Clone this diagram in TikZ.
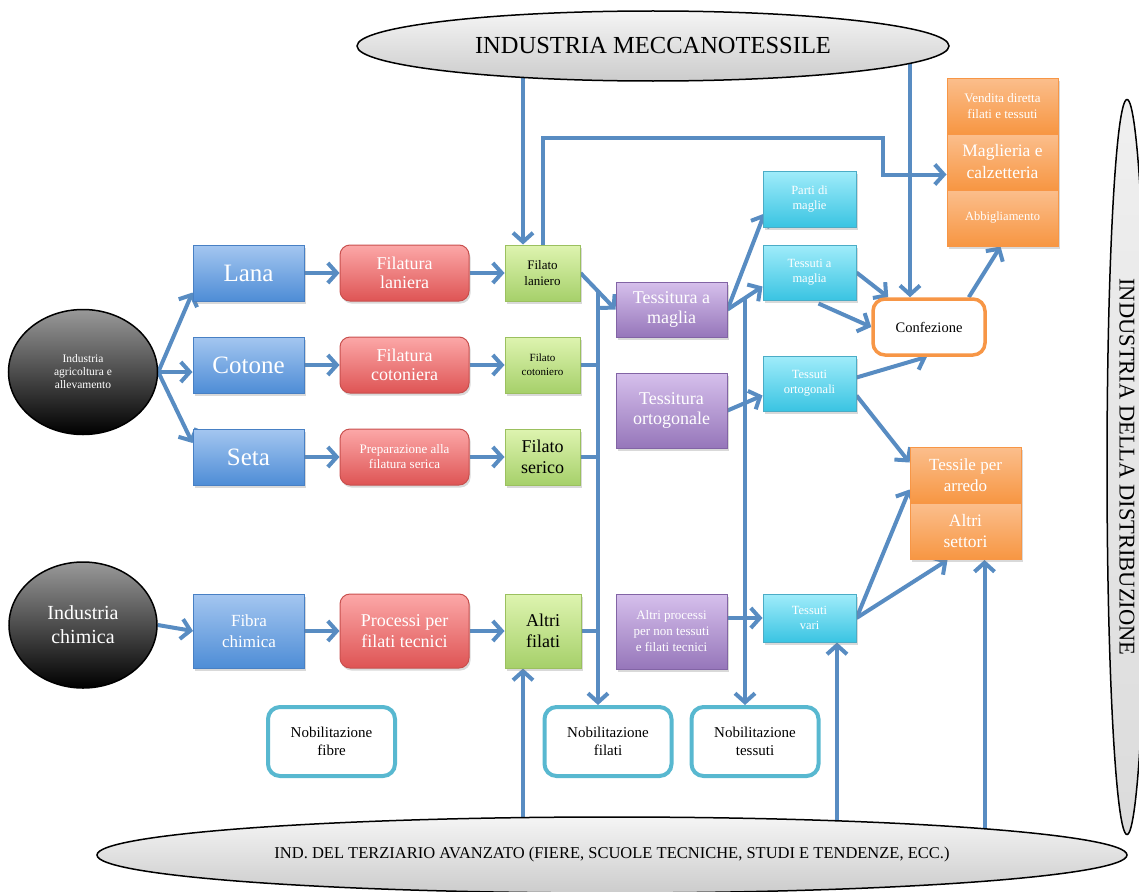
\documentclass[tikz,border=0pt]{standalone}
\usepackage{fontspec}
\setmainfont{Liberation Serif}
\usetikzlibrary{shapes.geometric,arrows.meta,shadows,calc}
\pgfdeclarelayer{background}
\pgfsetlayers{background,main}

\definecolor{arrowblue}{RGB}{88,140,194}
\definecolor{bluetop}{RGB}{164,198,240}
\definecolor{bluebot}{RGB}{78,141,214}
\definecolor{blueline}{RGB}{72,128,196}
\definecolor{redtop}{RGB}{252,168,168}
\definecolor{redbot}{RGB}{222,84,84}
\definecolor{redline}{RGB}{200,80,78}
\definecolor{greentop}{RGB}{222,244,176}
\definecolor{greenbot}{RGB}{166,208,106}
\definecolor{greenline}{RGB}{155,192,95}
\definecolor{purpletop}{RGB}{214,192,236}
\definecolor{purplebot}{RGB}{150,118,186}
\definecolor{purpleline}{RGB}{130,100,165}
\definecolor{cyantop}{RGB}{160,236,250}
\definecolor{cyanbot}{RGB}{58,196,226}
\definecolor{cyanline}{RGB}{75,172,198}
\definecolor{orangetop}{RGB}{251,190,140}
\definecolor{orangebot}{RGB}{247,150,66}
\definecolor{orangeline}{RGB}{247,150,70}
\definecolor{nobline}{RGB}{88,184,208}

\newcommand{\fsz}[2]{\fontsize{#1}{#2}\selectfont}

\tikzset{
	flow/.style={draw=arrowblue, line width=4pt, -{Straight Barb[length=9pt,width=20pt]}},
	link/.style={draw=arrowblue, line width=4pt},
	box/.style={rectangle, align=center, text=white, line width=1pt, inner sep=2pt, drop shadow={shadow xshift=1.5pt, shadow yshift=-2.5pt, opacity=0.3}},
	fibrebox/.style={box, minimum width=111pt, minimum height=56pt, top color=bluetop, bottom color=bluebot, draw=blueline},
	spinbox/.style={box, rounded corners=10pt, minimum width=129pt, minimum height=56pt, top color=redtop, bottom color=redbot, draw=redline},
	yarnbox/.style={box, text=black, minimum width=75pt, minimum height=56pt, top color=greentop, bottom color=greenbot, draw=greenline},
	knitbox/.style={box, minimum width=111pt, minimum height=55pt, top color=purpletop, bottom color=purplebot, draw=purpleline},
	clothbox/.style={box, minimum width=93pt, minimum height=55pt, top color=cyantop, bottom color=cyanbot, draw=cyanline},
	sellbox/.style={box, minimum width=111pt, minimum height=56pt, top color=orangetop, bottom color=orangebot, draw=orangeline},
	makebox/.style={rectangle, rounded corners=12pt, align=center, fill=white, draw=orangeline, line width=3.5pt, minimum width=112pt, minimum height=56pt},
	finishbox/.style={rectangle, rounded corners=12pt, align=center, fill=white, draw=nobline, line width=4pt, minimum width=127pt, minimum height=69pt, font=\fsz{15}{18}},
	sector/.style={ellipse, draw=black, line width=1.5pt, top color=gray!8, bottom color=gray!40, inner sep=0pt},
	source/.style={ellipse, draw=black, line width=1.5pt, top color=black!40, bottom color=black, text=white, align=center, inner sep=0pt}
}

\begin{document}
\begin{tikzpicture}[x=1pt,y=-1pt]
	\useasboundingbox (0,0) rectangle (1139,891);
	\clip (0,0) rectangle (1139,891);

	\node[sector, minimum width=592pt, minimum height=70pt, font=\fsz{24.5}{28}](meccano) at (653,46){INDUSTRIA MECCANOTESSILE};
	\node[sector, minimum width=1030pt, minimum height=76pt, font=\fsz{16.5}{19}](terziario) at (612,855){IND. DEL TERZIARIO AVANZATO (FIERE, SCUOLE TECNICHE, STUDI E TENDENZE, ECC.)};
	\node[sector, rotate=-90, top color=gray!12, bottom color=gray!28, minimum width=735pt, minimum height=40pt, font=\fsz{22.5}{26}](distribuzione) at (1127,467){INDUSTRIA DELLA DISTRIBUZIONE};

	\node[source, minimum width=149pt, minimum height=125pt, font=\fsz{11.5}{13}](agricoltura) at (83,372){Industria\\agricoltura e\\allevamento};
	\node[source, minimum width=148pt, minimum height=126pt, font=\fsz{20}{24}](chimica) at (83,625){Industria\\chimica};

	\node[fibrebox, font=\fsz{25}{28}](lana) at (248.5,273){Lana};
	\node[fibrebox, font=\fsz{25}{28}](cotone) at (248.5,365){Cotone};
	\node[fibrebox, font=\fsz{25}{28}](seta) at (248.5,457){Seta};
	\node[fibrebox, minimum height=74pt, font=\fsz{17}{21}](fibra) at (249,631){Fibra\\chimica};

	\node[spinbox, font=\fsz{18}{19.5}](flaniera) at (404.5,273){Filatura\\laniera};
	\node[spinbox, font=\fsz{18}{19.5}](fcotoniera) at (404.5,365){Filatura\\cotoniera};
	\node[spinbox, font=\fsz{13}{15}](fserica) at (404.5,457){Preparazione alla\\filatura serica};
	\node[spinbox, minimum height=74pt, font=\fsz{18}{21}](processi) at (404.5,631){Processi per\\filati tecnici};

	\node[yarnbox, font=\fsz{13}{16}](laniero) at (542.5,273){Filato\\laniero};
	\node[yarnbox, font=\fsz{11}{14}](cotoniero) at (542.5,365){Filato\\cotoniero};
	\node[yarnbox, font=\fsz{18}{21}](serico) at (542.5,457){Filato\\serico};
	\node[yarnbox, minimum width=76pt, minimum height=74pt, font=\fsz{18}{21}](altrifilati) at (543,631){Altri\\filati};

	\node[knitbox, font=\fsz{18}{20}](tmaglia) at (671.5,309.5){Tessitura a\\maglia};
	\node[knitbox, minimum height=75pt, font=\fsz{18}{20}](tortogonale) at (671.5,410.5){Tessitura\\ortogonale};
	\node[knitbox, minimum height=75pt, font=\fsz{13}{16}](aprocessi) at (671.5,631.5){Altri processi\\per non tessuti\\e filati tecnici};

	\node[clothbox, minimum height=56pt, font=\fsz{12.5}{15}](parti) at (809.5,199){Parti di\\maglie};
	\node[clothbox, font=\fsz{12.5}{15}](smaglia) at (809.5,272.5){Tessuti a\\maglia};
	\node[clothbox, font=\fsz{12.5}{15}](sortogonali) at (809.5,383.5){Tessuti\\ortogonali};
	\node[clothbox, minimum height=48pt, font=\fsz{12.5}{15}](svari) at (809.5,618){Tessuti\\vari};

	\node[makebox, font=\fsz{14.5}{17}](confezione) at (929,327){Confezione};

	\node[sellbox, font=\fsz{13}{16}](vendita) at (1002.5,106){Vendita diretta\\filati e tessuti};
	\node[sellbox, font=\fsz{17.5}{22}](maglieria) at (1002.5,162){Maglieria e\\calzetteria};
	\node[sellbox, font=\fsz{12.5}{15}](abbigliamento) at (1002.5,218){Abbigliamento};
	\node[sellbox, font=\fsz{17}{21}](arredo) at (965.5,475.5){Tessile per\\arredo};
	\node[sellbox, font=\fsz{17.5}{21}](settori) at (965.5,531.5){Altri\\settori};

	\node[finishbox](nfibre) at (331.5,741.5){Nobilitazione\\fibre};
	\node[finishbox](nfilati) at (608,741.5){Nobilitazione\\filati};
	\node[finishbox](ntessuti) at (755,741.5){Nobilitazione\\tessuti};

	\coordinate (busyarn) at ($(laniero.east)!0.5!(tmaglia.west)$);
	\coordinate (smagliain) at ($(smaglia.west)+(0,14)$);
	\coordinate (buscloth) at ($(tmaglia.east)!0.5!(smagliain)$);
	\coordinate (mecA) at ($(laniero.north)+(-19.5,0)$);
	\coordinate (mecB) at ($(confezione.north)+(-19,0)$);
	\coordinate (terA) at ($(altrifilati.south)+(-20,0)$);
	\coordinate (terB) at ($(svari.south)+(27.5,0)$);
	\coordinate (terC) at ($(settori.south)+(19,0)$);

	\begin{pgfonlayer}{background}
		\draw[flow] (agricoltura.east) -- ($(lana.south west)+(0,-9)$);
		\draw[flow] (agricoltura.east) -- (agricoltura.east -| cotone.west);
		\draw[flow] (agricoltura.east) -- ($(seta.west)+(0,-14)$);
		\draw[flow] (chimica.east) -- (fibra.west);

		\draw[flow] (lana.east) -- (flaniera.west);
		\draw[flow] (cotone.east) -- (fcotoniera.west);
		\draw[flow] (seta.east) -- (fserica.west);
		\draw[flow] (fibra.east) -- (processi.west);
		\draw[flow] (flaniera.east) -- (laniero.west);
		\draw[flow] (fcotoniera.east) -- (cotoniero.west);
		\draw[flow] (fserica.east) -- (serico.west);
		\draw[flow] (processi.east) -- (altrifilati.west);

		\draw[flow] (laniero.east) -- (tmaglia.west);
		\draw[flow] (busyarn) -- (busyarn |- nfilati.north);
		\draw[link] (cotoniero.east) -- (cotoniero.east -| busyarn);
		\draw[link] (serico.east) -- (serico.east -| busyarn);
		\draw[link] (altrifilati.east) -- (altrifilati.east -| busyarn);

		\draw[flow] (tmaglia.east) -- ($(parti.south west)+(2,-14)$);
		\draw[flow] (tmaglia.east) -- (smagliain);
		\draw[flow] (buscloth) -- (buscloth |- ntessuti.north);
		\draw[flow] (tortogonale.east) -- ($(sortogonali.west)+(0,12)$);
		\draw[flow] (aprocessi.east |- svari.west) -- (svari.west);

		\draw[flow] (mecA |- meccano.center) -- (mecA);
		\draw[flow] (laniero.north) |- (883,138) |- ($(maglieria.west)+(0,12.5)$);
		\draw[flow] (mecB |- meccano.center) -- (mecB);

		\draw[flow] (smaglia.east) -- ($(confezione.north west)+(17,0)$);
		\draw[flow] ($(smaglia.south)+(9,3)$) -- (confezione.west);
		\draw[flow] ($(sortogonali.east)+(0,-6)$) -- ($(confezione.south)+(-2,0)$);
		\draw[flow] ($(sortogonali.east)+(0,12)$) -- ($(arredo.west)+(0,-13)$);
		\draw[flow] (svari.east) -- ($(arredo.west)+(0,14)$);
		\draw[flow] (svari.east) -- ($(settori.south)+(-18,0)$);
		\draw[flow] ($(confezione.north east)+(-18,0)$) -- ($(abbigliamento.south)+(-2,0)$);

		\draw[flow] (terA |- terziario.center) -- (terA);
		\draw[flow] (terB |- terziario.center) -- (terB);
		\draw[flow] (terC |- terziario.center) -- (terC);
	\end{pgfonlayer}
\end{tikzpicture}
\end{document}
